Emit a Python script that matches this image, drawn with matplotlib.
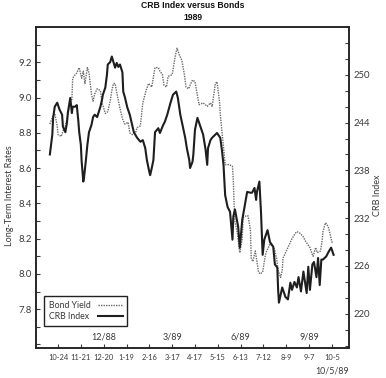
import matplotlib
matplotlib.use('Agg')
import matplotlib.pyplot as plt
from matplotlib.ticker import MultipleLocator, FormatStrFormatter

# days counted from 10-24-88
bond_days = [-10, -6, -4, -1, 0, 4, 6, 9, 12, 15, 17, 18, 21, 23, 26, 27, 29, 31, 33, 36,
             38, 41, 43, 45, 48, 52, 54, 58, 61, 64, 66, 68, 70, 72, 75, 79, 82, 86, 88, 91,
             95, 97, 101, 104, 108, 111, 115, 119, 123, 125, 128, 130, 133, 135, 140, 144, 146, 149, 152, 155,
             157, 160, 165, 168, 171, 173, 178, 183, 187, 189, 193, 195, 198, 199, 201, 203, 205, 210, 214, 215,
             216, 217, 220, 222, 223, 226, 227, 231, 233, 236, 237, 239, 242, 244, 246, 248, 251, 253, 255, 258,
             260, 263, 265, 268, 270, 273, 275, 276, 280, 282, 285, 287, 291, 293, 297, 301, 303, 306, 309, 312,
             313, 316, 318, 322, 324, 325, 328, 330, 332, 334, 336, 338]
bond_yield = [8.85, 8.90, 8.91, 8.84, 8.79, 8.78, 8.81, 8.84, 8.90, 8.98, 8.99, 9.11, 9.13, 9.14, 9.17, 9.15, 9.11, 9.15, 9.08, 9.17,
              9.14, 9.02, 8.98, 9.02, 9.05, 9.04, 8.97, 8.91, 8.92, 8.98, 9.04, 9.08, 9.08, 9.03, 8.96, 8.88, 8.85, 8.86, 8.80, 8.79,
              8.80, 8.83, 8.84, 8.97, 9.04, 9.08, 9.06, 9.17, 9.17, 9.15, 9.13, 9.07, 9.06, 9.12, 9.13, 9.24, 9.28, 9.24, 9.21, 9.13,
              9.06, 9.05, 9.10, 9.09, 9.01, 8.96, 8.97, 8.95, 8.97, 8.95, 9.08, 9.09, 8.98, 8.91, 8.81, 8.72, 8.62, 8.62, 8.61, 8.53,
              8.39, 8.30, 8.23, 8.15, 8.12, 8.20, 8.32, 8.33, 8.33, 8.25, 8.09, 8.07, 8.13, 8.07, 8.01, 8.00, 8.01, 8.07, 8.12, 8.15,
              8.17, 8.16, 8.15, 8.09, 8.02, 7.98, 8.02, 8.09, 8.13, 8.15, 8.18, 8.20, 8.23, 8.24, 8.23, 8.21, 8.19, 8.17, 8.15, 8.11,
              8.10, 8.15, 8.12, 8.13, 8.19, 8.24, 8.29, 8.28, 8.26, 8.22, 8.18, 8.18]

crb_days = [-10, -7, -6, -4, -1, 0, 2, 5, 6, 9, 11, 12, 15, 17, 18, 21, 23, 25, 26, 28,
            29, 31, 32, 34, 36, 38, 41, 43, 45, 48, 52, 54, 55, 58, 60, 61, 64, 66, 68, 70,
            72, 74, 76, 79, 80, 82, 85, 88, 91, 93, 97, 101, 104, 107, 109, 112, 113, 115, 117, 119,
            123, 125, 129, 131, 134, 138, 141, 145, 147, 150, 154, 156, 158, 161, 162, 165, 166, 168, 171, 174,
            178, 181, 183, 184, 187, 189, 193, 195, 199, 201, 203, 204, 205, 208, 211, 214, 215, 217, 221, 223,
            226, 230, 232, 236, 238, 241, 243, 244, 247, 249, 251, 253, 257, 260, 264, 266, 269, 270, 271, 275,
            279, 282, 285, 287, 290, 293, 295, 298, 301, 305, 307, 309, 312, 314, 317, 319, 321, 323, 325, 329,
            332, 335, 338]
crb_index = [240.0, 242.5, 244.6, 246.0, 246.5, 246.2, 245.6, 245.0, 243.5, 242.8, 244.0, 245.2, 247.1, 245.2, 246.0, 246.0, 246.2, 244.1, 242.8, 241.2,
             239.1, 236.6, 237.2, 239.1, 241.2, 242.8, 243.7, 244.7, 245.0, 244.7, 246.0, 246.9, 247.5, 248.4, 250.0, 251.3, 251.6, 252.3, 251.6, 250.9,
             251.5, 251.0, 251.3, 250.3, 247.9, 247.2, 245.9, 245.0, 243.7, 242.8, 242.1, 241.6, 241.8, 240.8, 239.3, 237.8, 237.4, 238.3, 239.3, 242.8,
             243.3, 242.7, 243.7, 244.1, 245.0, 246.5, 247.5, 247.9, 247.1, 245.0, 243.1, 242.1, 240.8, 239.3, 238.3, 239.1, 240.0, 243.1, 244.6, 243.7,
             242.5, 240.6, 238.7, 240.8, 241.8, 242.1, 242.5, 242.7, 242.1, 240.6, 238.7, 236.8, 234.9, 233.4, 232.8, 229.3, 232.2, 233.1, 230.9, 228.3,
             231.8, 234.1, 235.3, 235.2, 235.2, 235.8, 234.3, 235.3, 236.6, 232.7, 227.4, 229.3, 230.5, 229.0, 228.4, 226.2, 225.8, 223.0, 221.4, 223.3,
             222.1, 221.8, 223.9, 223.0, 224.0, 223.3, 224.6, 222.8, 225.3, 222.6, 225.9, 223.0, 226.2, 226.5, 224.6, 227.0, 223.6, 226.8, 226.8, 227.2,
             227.8, 228.3, 227.4]

tick_labels = ['10-24', '11-21', '12-20', '1-19', '2-16', '3-17', '4-17',
               '5-15', '6-13', '7-12', '8-9', '9-7', '10-5']
tick_days = [28 * i for i in range(len(tick_labels))]
month_labels = ['12/88', '3/89', '6/89', '9/89']
month_days = [56, 140, 224, 308]
left_ticks = [7.8, 8.0, 8.2, 8.4, 8.6, 8.8, 9.0, 9.2]
right_ticks = [220, 226, 232, 238, 244, 250]

txt = '#3a3a3a'
plt.rcParams['font.family'] = ['Lato', 'DejaVu Sans']

fig = plt.figure(figsize=(3.86, 3.78), dpi=100, facecolor='white')
ax = fig.add_axes([0.0933, 0.0794, 0.811, 0.849])
ax2 = ax.twinx()

l1, = ax.plot(bond_days, bond_yield, color='#6a6a6a', lw=1.0, ls=(0, (1, 0.8)))
l2, = ax2.plot(crb_days, crb_index, color='#1e1e1e', lw=1.5)

ax.set_xlim(-27, 357)
ax.set_ylim(7.58, 9.40)
ax2.set_ylim(215.7, 256.0)

ax.set_xticks(tick_days)
ax.set_xticklabels(tick_labels)
ax.set_yticks(left_ticks)
ax.yaxis.set_minor_locator(MultipleLocator(0.1))
ax.yaxis.set_major_formatter(FormatStrFormatter('%.1f'))
ax2.set_yticks(right_ticks)
ax2.yaxis.set_minor_locator(MultipleLocator(2))

ax.tick_params(axis='x', direction='in', length=3, width=0.8, pad=4, labelsize=5.4, colors=txt)
ax.tick_params(axis='y', which='both', direction='in', length=3, width=0.8, pad=3,
               labelsize=6.8, colors=txt, right=False)
ax2.tick_params(axis='y', which='both', direction='in', length=3, width=0.8, pad=3,
                labelsize=6.8, colors=txt)

for a in (ax, ax2):
    for s in a.spines.values():
        s.set_linewidth(1.1)
        s.set_color('#222222')

for d, lab in zip(month_days, month_labels):
    ax.text(d, 0.034, lab, transform=ax.get_xaxis_transform(), ha='center', va='center',
            fontsize=6.5, color=txt)

fig.text(332 / 386, 1 - 371 / 378, '10/5/89', ha='center', va='center', fontsize=6.3, color=txt)
fig.text(10 / 386, 1 - 196 / 378, 'Long-Term Interest Rates', rotation=90, ha='center',
         va='center', fontsize=6.5, color=txt)
fig.text(378 / 386, 1 - 195 / 378, 'CRB Index', rotation=90, ha='center', va='center',
         fontsize=6.5, color=txt)
title_font = ['Liberation Sans', 'DejaVu Sans']
fig.text(193 / 386, 1 - 6 / 378, 'CRB Index versus Bonds', ha='center', va='center',
         fontsize=6.2, fontweight='bold', family=title_font, color='#111111')
fig.text(193 / 386, 1 - 17 / 378, '1989', ha='center', va='center',
         fontsize=6.2, fontweight='bold', family=title_font, color='#111111')

leg = ax2.legend([l1, l2], ['Bond Yield', 'CRB Index'], loc='lower left',
                 bbox_to_anchor=(0.026, 0.069), borderaxespad=0, markerfirst=False,
                 fontsize=6.3, handlelength=2.8, handletextpad=0.9, borderpad=0.5,
                 labelspacing=0.3, fancybox=False, framealpha=1)
leg.get_frame().set_edgecolor('#222222')
leg.get_frame().set_linewidth(1.0)
for t in leg.get_texts():
    t.set_color(txt)

# left-align the legend labels while keeping the line samples in one column
fig.canvas.draw()
rend = fig.canvas.get_renderer()
widths = [t.get_window_extent(rend).width for t in leg.get_texts()]
rows = leg._legend_handle_box.get_children()[0].get_children()
for row, w in zip(rows, widths):
    row.sep += (max(widths) - w) * 72 / fig.dpi

fig.savefig('out.png', dpi=100, facecolor='white')
